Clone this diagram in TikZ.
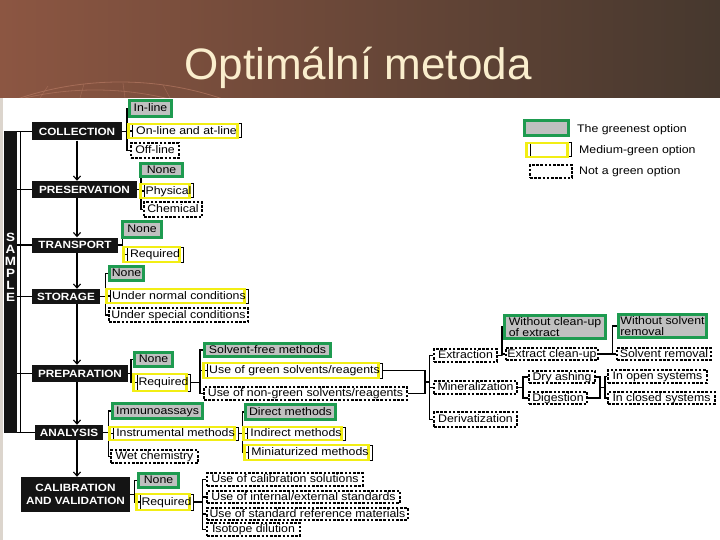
\documentclass[tikz,border=0pt]{standalone}
\usepackage{fontspec}
\setmainfont{Liberation Sans}
\newfontfamily\optfont[FakeStretch=1.12]{Liberation Sans}
\usetikzlibrary{arrows.meta}
\definecolor{greenc}{RGB}{30,155,80}
\definecolor{yellowc}{RGB}{242,238,20}
\definecolor{grayfill}{RGB}{192,192,192}
\definecolor{titlec}{RGB}{250,238,205}
\definecolor{hdrleft}{RGB}{140,86,66}
\definecolor{hdrright}{RGB}{70,56,46}
\definecolor{arcc}{RGB}{180,120,98}
\definecolor{stripc}{RGB}{220,213,205}
\pgfdeclarelayer{bg}
\pgfsetlayers{bg,main}
\tikzset{
  conn/.style={draw=black, line width=1.1pt},
  mainarrow/.style={draw=black, line width=1.1pt, -{Straight Barb[length=4pt,width=7pt]}},
  wh/.style 2 args={minimum width=#1, minimum height=#2},
  opt/.style={font=\optfont\fontsize{11}{12}\selectfont, inner sep=0pt, text height=8.4pt, text depth=1.6pt},
  twoline/.style={text height={}, text depth={}, align=left, font=\optfont\fontsize{11}{11.5}\selectfont},
  greenest/.style={opt, fill=grayfill, draw=greenc, line width=2.6pt},
  medium/.style={opt, fill=white, draw=black, line width=1pt,
    postaction={draw=yellowc, line width=2.8pt, transform canvas={xshift=-3.5pt}}},
  notgreen/.style={opt, fill=white, draw=black, line width=1.1pt, dash pattern=on 2.6pt off 1.6pt},
  mainbox/.style={fill=black!92, text=white, font=\optfont\bfseries\fontsize{10.5}{13}\selectfont, inner sep=0pt},
  legendtext/.style={opt, anchor=west},
}
\begin{document}
\begin{tikzpicture}[x=1pt,y=-1pt]
\useasboundingbox (0,0) rectangle (720,540);
% header
\shade[left color=hdrleft, right color=hdrright] (0,0) rectangle (720,98);
\begin{scope}
  \clip (0,0) rectangle (720,98);
  \draw[arcc, line width=0.8pt, opacity=0.7] (120,400) circle[radius=318pt];
  \draw[arcc, line width=0.8pt, opacity=0.6] (95,400) circle[radius=310pt];
  \draw[arcc, line width=0.6pt, opacity=0.5] (40,98) -- (48,86);
  \draw[arcc, line width=0.6pt, opacity=0.5] (80,98) -- (84,84);
  \draw[arcc, line width=0.6pt, opacity=0.5] (125,98) -- (123,83);
  \draw[arcc, line width=0.6pt, opacity=0.5] (170,98) -- (163,85);
\end{scope}
\fill[stripc] (0,98) rectangle (3,540);
\node[text=titlec, font=\fontsize{44}{50}\selectfont] (title) at (358,68) {Optimální metoda};

% sample bar
\node[fill=black!92, wh={13}{302}, inner sep=0pt] (bar) at (10.5,282) {};
\node[text=white, font=\optfont\bfseries\fontsize{12}{12}\selectfont, align=center, inner sep=0pt] (sample) at (10.5,267.5) {S\\A\\M\\P\\L\\E};
\coordinate (vl) at (20.5,0);

% main boxes
\node[mainbox, wh={90}{18}] (coll) at (77,131.5) {COLLECTION};
\node[mainbox, wh={105}{17}] (pres) at (84.5,189.5) {PRESERVATION};
\node[mainbox, wh={86}{15}] (trans) at (75,245) {TRANSPORT};
\node[mainbox, wh={68}{15}] (stor) at (66,296.5) {STORAGE};
\node[mainbox, wh={96}{17}] (prep) at (80,373.5) {PREPARATION};
\node[mainbox, wh={68}{15}] (anal) at (69,432.5) {ANALYSIS};
\node[mainbox, wh={109}{35}, align=center] (cal) at (75.5,494.5) {CALIBRATION\\AND VALIDATION};

% collection
\node[greenest, wh={42.4}{16.4}] (cin) at (150.5,108.5) {In-line};
\node[medium, wh={109}{14}] (online) at (186.5,131) {On-line and at-line};
\node[notgreen, wh={48}{15}] (offline) at (155,150.5) {Off-line};
% preservation
\node[greenest, wh={42.4}{13.4}] (pnone) at (161.5,170) {None};
\node[medium, wh={49}{14}] (phys) at (168.5,191) {Physical};
\node[notgreen, wh={58}{15}] (chem) at (173,209.5) {Chemical};
% transport
\node[greenest, wh={39.4}{16.4}] (tnone) at (142,229.5) {None};
\node[medium, wh={56}{15}] (treq) at (155,254.5) {Required};
% storage
\node[greenest, wh={34.4}{14.4}] (snone) at (126.5,273.5) {None};
\node[medium, wh={138}{14}] (snormal) at (179,296) {Under normal conditions};
\node[notgreen, wh={139}{14}] (sspecial) at (178.5,315) {Under special conditions};
% preparation
\node[greenest, wh={38.4}{14.4}] (prnone) at (153.5,359.5) {None};
\node[medium, wh={53}{17}] (prreq) at (163.5,382.5) {Required};
\node[greenest, wh={126.4}{13.4}] (sfree) at (267.5,350) {Solvent-free methods};
\node[medium, wh={175}{15}] (greensolv) at (294.5,370.5) {Use of green solvents/reagents};
\node[notgreen, wh={203}{13}] (nongreen) at (305.5,393.5) {Use of non-green solvents/reagents};
\node[notgreen, wh={63}{13}] (extr) at (465.5,355.5) {Extraction};
\node[notgreen, wh={83}{13}] (miner) at (475.5,387.5) {Mineralization};
\node[notgreen, wh={83}{15}] (deriv) at (475.5,419.5) {Derivatization};
\node[greenest, twoline, wh={101.4}{23.4}] (woclean) at (555,327) {Without clean-up\\of extract};
\node[notgreen, wh={92}{12}] (xclean) at (552,354) {Extract clean-up};
\node[greenest, twoline, wh={88.4}{23.4}] (wosolv) at (662.5,326) {Without solvent\\removal};
\node[notgreen, wh={94}{12}] (solvrem) at (664,354) {Solvent removal};
\node[notgreen, wh={66}{12}] (dry) at (562,377) {Dry ashing};
\node[notgreen, wh={58}{12}] (digest) at (558,398) {Digestion};
\node[notgreen, wh={99}{13}] (opensys) at (657.5,376.5) {In open systems};
\node[notgreen, wh={107}{12}] (closedsys) at (661.5,398) {In closed systems};
% analysis
\node[greenest, wh={90.4}{15.4}] (immuno) at (157.5,411) {Immunoassays};
\node[medium, wh={125}{13}] (instr) at (175.5,433.5) {Instrumental methods};
\node[notgreen, wh={87}{13}] (wet) at (154.5,456.5) {Wet chemistry};
\node[greenest, wh={90.4}{15.4}] (direct) at (290.5,412) {Direct methods};
\node[medium, wh={98}{13}] (indirect) at (296,433.5) {Indirect methods};
\node[medium, wh={124}{15}] (mini) at (310,452.5) {Miniaturized methods};
% calibration
\node[greenest, wh={40.4}{14.4}] (cnone) at (158.5,480.5) {None};
\node[medium, wh={53}{16}] (creq) at (166.5,502) {Required};
\node[notgreen, wh={156}{13}] (calsol) at (285,479.5) {Use of calibration solutions};
\node[notgreen, wh={193}{12}] (intext) at (303.5,497) {Use of internal/external standards};
\node[notgreen, wh={201}{12}] (stdref) at (307.5,514) {Use of standard reference materials};
\node[notgreen, wh={93}{13}] (iso) at (253.5,529.5) {Isotope dilution};

% legend
\node[greenest, wh={44.4}{15.4}] (lgreen) at (546.5,128) {};
\node[medium, wh={41}{14}] (lmed) at (550.5,150) {};
\node[notgreen, wh={42}{13}] (lnot) at (551,171.5) {};
\node[legendtext] (lgt) at (577,129.5) {The greenest option};
\node[legendtext] (lmt) at (579,150) {Medium-green option};
\node[legendtext] (lnt) at (579,171) {Not a green option};

\begin{pgfonlayer}{bg}
% sample bracket
\foreach \n in {coll,pres,trans,stor,prep,anal} {\draw[conn] (bar.east |- \n.west) -- (\n.west);}
\draw[conn] (vl |- coll.west) -- (vl |- anal.west);
% main arrows
\draw[mainarrow] (coll.south) -- (coll.south |- pres.north);
\draw[mainarrow] (coll.south |- pres.south) -- (coll.south |- trans.north);
\draw[mainarrow] (coll.south |- trans.south) -- (coll.south |- stor.north);
\draw[mainarrow] (coll.south |- stor.south) -- (coll.south |- prep.north);
\draw[mainarrow] (coll.south |- prep.south) -- (coll.south |- anal.north);
\draw[mainarrow] (coll.south |- anal.south) -- (coll.south |- cal.north);
% brackets
\coordinate (bcol) at (127,131.5);
\draw[conn] (coll.east) -- (bcol);
\draw[conn] (cin.west) -| (bcol) |- (offline.west);
\draw[conn] (online.west) -- (bcol |- online.west);
\coordinate (bpres) at (141,189.5);
\draw[conn] (pres.east) -- (bpres);
\draw[conn] (pnone.west) -| (bpres) |- (chem.west);
\draw[conn] (phys.west) -- (bpres |- phys.west);
\coordinate (btr) at (122.5,245);
\draw[conn] (trans.east) -- (btr);
\draw[conn] (tnone.west) -| (btr) |- (treq.west);
\coordinate (bst) at (105.5,296.5);
\draw[conn] (stor.east) -- (bst);
\draw[conn] (snone.west) -| (bst) |- (sspecial.west);
\draw[conn] (snormal.west) -- (bst |- snormal.west);
\coordinate (bpr) at (131,373.5);
\draw[conn] (prep.east) -- (bpr);
\draw[conn] (prnone.west) -| (bpr) |- (prreq.west);
\coordinate (bsolv) at (200,382.5);
\draw[conn] (prreq.east) -- (bsolv);
\draw[conn] (sfree.west) -| (bsolv) |- (nongreen.west);
\draw[conn] (greensolv.west) -- (bsolv |- greensolv.west);
\coordinate (j1) at (425,382);
\coordinate (j2) at (429.5,382);
\draw[conn] (greensolv.east) -| (j1) |- (nongreen.east);
\draw[conn] (j1) -- (j2);
\draw[conn] (extr.west) -| (j2) |- (deriv.west);
\draw[conn] (miner.west) -- (j2 |- miner.west);
\coordinate (bex) at (502,355.5);
\draw[conn] (extr.east) -- (bex);
\draw[conn] (woclean.west) -| (bex) |- (xclean.west);
\coordinate (bxc) at (612.5,354);
\draw[conn] (xclean.east) -- (bxc);
\draw[conn] (wosolv.west) -| (bxc) |- (solvrem.west);
\coordinate (bmin) at (523,387.5);
\draw[conn] (miner.east) -- (bmin);
\draw[conn] (dry.west) -| (bmin) |- (digest.west);
\coordinate (j3) at (600,387.5);
\coordinate (j4) at (605,387.5);
\draw[conn] (dry.east) -| (j3) |- (digest.east);
\draw[conn] (j3) -- (j4);
\draw[conn] (opensys.west) -| (j4) |- (closedsys.west);
\coordinate (ban) at (108.5,432.5);
\draw[conn] (anal.east) -- (ban);
\draw[conn] (immuno.west) -| (ban) |- (wet.west);
\draw[conn] (instr.west) -- (ban |- instr.west);
\coordinate (bins) at (242.5,433.5);
\draw[conn] (instr.east) -- (bins);
\draw[conn] (direct.west) -| (bins) |- (mini.west);
\draw[conn] (indirect.west) -- (bins |- indirect.west);
\coordinate (bcal) at (134.5,494.5);
\draw[conn] (cal.east) -- (bcal);
\draw[conn] (cnone.west) -| (bcal) |- (creq.west);
\coordinate (bcr) at (202.5,502);
\draw[conn] (creq.east) -- (bcr);
\draw[conn] (calsol.west) -| (bcr) |- (iso.west);
\draw[conn] (intext.west) -- (bcr |- intext.west);
\draw[conn] (stdref.west) -- (bcr |- stdref.west);
\end{pgfonlayer}
\end{tikzpicture}
\end{document}
